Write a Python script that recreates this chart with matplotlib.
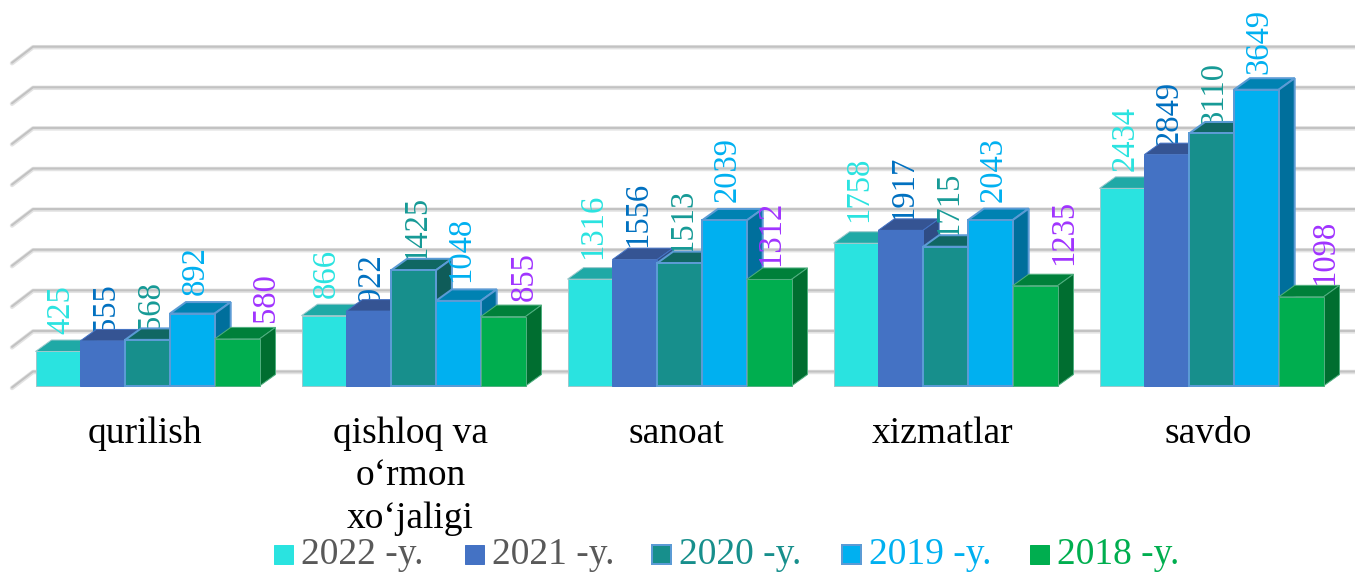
import matplotlib
matplotlib.use('Agg')
import matplotlib.pyplot as plt
from matplotlib.patches import Polygon, Rectangle
import numpy as np

plt.rcParams['font.family'] = ['Liberation Serif', 'DejaVu Serif']

# Data
categories = ['qurilish', 'qishloq va\no‘rmon\nxo‘jaligi', 'sanoat', 'xizmatlar', 'savdo']
years = ['2022 -y.', '2021 -y.', '2020 -y.', '2019 -y.', '2018 -y.']
v2022 = [425, 866, 1316, 1758, 2434]
v2021 = [555, 922, 1556, 1917, 2849]
v2020 = [568, 1425, 1513, 1715, 3110]
v2019 = [892, 1048, 2039, 2043, 3649]
v2018 = [580, 855, 1312, 1235, 1098]
grid_ticks = [0, 500, 1000, 1500, 2000, 2500, 3000, 3500, 4000]

series = [v2022, v2021, v2020, v2019, v2018]

# Styles per series
front = ['#2AE3E0', '#4472C4', '#178F8C', '#00B0F0', '#00AE4F']
top = ['#1FA9A6', '#355493', '#106763', '#0082B2', '#00803A']
side = ['#1B9996', '#2F4C84', '#0F5C59', '#006F9C', '#006E30']
edge = ['#9CC8CC', '#4472C4', '#5B9BD5', '#5B9BD5', '#4FAF7F']
edge_w = [1, 1, 2, 2, 1]
label_col = ['#2AE3E0', '#0070C0', '#169A96', '#00B0F0', '#A033FF']
legend_col = ['#595959', '#595959', '#178F8C', '#00B0F0', '#00AE4F']

# Hand placed data labels: gap above the bar and sideways shift, in pixels
label_gap = [[17, 18, 20, 21, 17],
             [9, 8, 13, 9, 9],
             [10, 9, 9, 10, 7],
             [19, 19, 18, 18, 16],
             [17, 16, 13, 21, 12]]
label_dx = [[3] * 5, [3] * 5, [3] * 5, [3] * 5, [28.5, 21.5, 2, 28.5, 23.5]]

W, H = 1355, 572
GROUP_PX = 266.0
BAR_PX = 44.8
Y_SCALE = 0.0812
X0_PX, Y0_PX = 147.5, 386.0

fig = plt.figure(figsize=(W / 100, H / 100), dpi=100)
ax = fig.add_axes([0, 0, 1, 1])
ax.set_xlim(-X0_PX / GROUP_PX, (W - X0_PX) / GROUP_PX)
ax.set_ylim((Y0_PX - H) / Y_SCALE, Y0_PX / Y_SCALE)
ax.axis('off')

w = BAR_PX / GROUP_PX
ddx, ddy = 16 / GROUP_PX, 11.5 / Y_SCALE

# Back wall lines, with the short slanted bit at the left
wall_x0 = (12 - X0_PX) / GROUP_PX
wall_x1 = (33 - X0_PX) / GROUP_PX
wall_lo = -2 / Y_SCALE
wall_hi = 14 / Y_SCALE
for g in grid_ticks:
    xs = [wall_x0, wall_x1, ax.get_xlim()[1]]
    ys = [g + wall_lo, g + wall_hi, g + wall_hi]
    ax.plot(xs, ys, color='#E3E3E3', lw=3.2, zorder=1, solid_capstyle='round')
    ax.plot(xs, [y + 0.5 / Y_SCALE for y in ys], color='#C2C2C2', lw=1.5, zorder=2,
            solid_capstyle='round')

x_groups = np.arange(len(categories))
for s, vals in enumerate(series):
    xc = x_groups + (s - 2) * w
    z = 10 + 2 * s
    for i, v in enumerate(vals):
        l, r = xc[i] - w / 2, xc[i] + w / 2
        ax.add_patch(Polygon([(l, v), (r, v), (r + ddx, v + ddy), (l + ddx, v + ddy)],
                             closed=True, facecolor=top[s], edgecolor=edge[s],
                             lw=edge_w[s] * 0.72, zorder=z + 1))
        ax.add_patch(Polygon([(r, 0), (r + ddx, ddy), (r + ddx, v + ddy), (r, v)],
                             closed=True, facecolor=side[s], edgecolor=edge[s],
                             lw=edge_w[s] * 0.72, zorder=z + 1))
        ax.annotate(str(v), (xc[i], v),
                    xytext=(label_dx[s][i] * 0.72, label_gap[s][i] * 0.72),
                    textcoords='offset points', rotation=90, ha='center', va='bottom',
                    fontsize=23.5, color=label_col[s], zorder=z)
    ax.bar(xc, vals, width=w, color=front[s], edgecolor=edge[s],
           linewidth=edge_w[s] * 0.72, zorder=z + 1)

# Category labels
for i, c in enumerate(categories):
    ax.text(i - 3 / GROUP_PX, (Y0_PX - 416.5) / Y_SCALE, c, ha='center', va='top',
            fontsize=27, color='black', linespacing=1.3, zorder=30)

# Legend
legend_x = [274, 465, 652, 842, 1030]
for x, name, s in zip(legend_x, years, range(5)):
    fig.patches.append(Rectangle((x / W, 1 - 564 / H), 19 / W, 19 / H,
                                 transform=fig.transFigure, facecolor=front[s],
                                 edgecolor=edge[s] if edge_w[s] > 1 else front[s],
                                 lw=edge_w[s] * 0.72))
    fig.text((x + 27) / W, 1 - 563.5 / H, name, ha='left', va='baseline',
             fontsize=27, color=legend_col[s])

fig.savefig('out.png', dpi=100)
